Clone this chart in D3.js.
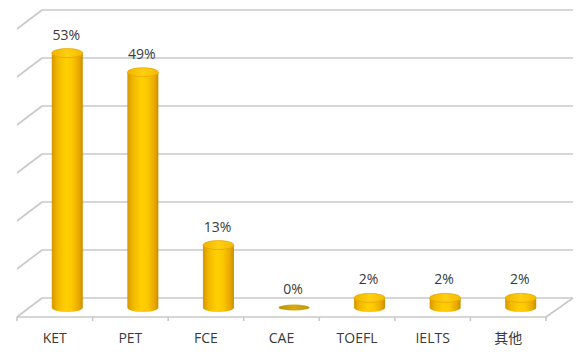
<!DOCTYPE html>
<html>
<head>
<meta charset="utf-8">
<script src="https://cdn.jsdelivr.net/npm/d3@7/dist/d3.min.js"></script>
<style>
  html, body { margin: 0; padding: 0; background: #fff; }
  svg { display: block; }
</style>
</head>
<body>
<svg id="chart" width="584" height="355"></svg>
<script>
const categories = ["KET", "PET", "FCE", "CAE", "TOEFL", "IELTS", "其他"];
const values = [53, 49, 13, 0, 2, 2, 2];
const labels = ["53%", "49%", "13%", "0%", "2%", "2%", "2%"];
const gridTicks = [0, 10, 20, 30, 40, 50, 60];

const W = 584, H = 355;
const svg = d3.select("#chart");

// front floor edge and depth offset (back = front + (dx, -dy))
const frontLeft = 17, frontRight = 546, frontY = 317;
const dx = 25, dy = 19;
const backLeft = frontLeft + dx, backRight = frontRight + dx + 2;

const x = d3.scaleBand().domain(categories).range([frontLeft, frontRight]);
const y = d3.scaleLinear().domain([0, 60]).range([frontY - dy, 10]);

const defs = svg.append("defs");
const body = defs.append("linearGradient").attr("id", "body").attr("x1", 0).attr("x2", 1).attr("y1", 0).attr("y2", 0);
[["0%", "#d69600"], ["18%", "#f2b800"], ["45%", "#ffd000"], ["65%", "#fcc800"], ["88%", "#e8a800"], ["100%", "#c98d00"]]
  .forEach(([o, c]) => body.append("stop").attr("offset", o).attr("stop-color", c));
const topG = defs.append("linearGradient").attr("id", "top").attr("x1", 0).attr("x2", 1).attr("y1", 0).attr("y2", 0);
[["0%", "#f0b400"], ["50%", "#ffcf10"], ["100%", "#f4bc00"]]
  .forEach(([o, c]) => topG.append("stop").attr("offset", o).attr("stop-color", c));
const flatG = defs.append("linearGradient").attr("id", "flat").attr("x1", 0).attr("x2", 1).attr("y1", 0).attr("y2", 0);
[["0%", "#b8960a"], ["50%", "#d4aa10"], ["100%", "#c29a08"]]
  .forEach(([o, c]) => flatG.append("stop").attr("offset", o).attr("stop-color", c));

const gridColor = "#c8c8c8";
const grid = svg.append("g").attr("stroke", gridColor).attr("stroke-width", 1.6).attr("fill", "none");

// back wall gridlines + left side diagonals
gridTicks.forEach(t => {
  const yy = y(t);
  grid.append("line").attr("x1", backLeft).attr("x2", backRight).attr("y1", yy).attr("y2", yy);
  grid.append("line").attr("x1", backLeft).attr("y1", yy).attr("x2", backLeft - dx).attr("y2", yy + dy);
});
// floor front edge and right diagonal
grid.append("line").attr("x1", frontLeft).attr("x2", frontRight).attr("y1", frontY).attr("y2", frontY);
grid.append("line").attr("x1", backRight).attr("y1", y(0)).attr("x2", frontRight).attr("y2", frontY);

// category ticks on the front edge
const tickPos = categories.map(c => x(c)).concat([frontRight]);
grid.selectAll(".tk").data(tickPos).enter().append("line")
  .attr("x1", d => d).attr("x2", d => d).attr("y1", frontY).attr("y2", frontY + 4);

// cylinders (mid-depth)
const rx = 15.5, ry = 4.5;
const bars = svg.append("g");
categories.forEach((c, i) => {
  const cx = x(c) + x.bandwidth() / 2 + dx / 2;
  const base = y(0) + dy / 2;
  const top = y(values[i]) + dy / 2;
  const g = bars.append("g");
  if (values[i] === 0) {
    g.append("ellipse").attr("cx", cx).attr("cy", base).attr("rx", rx).attr("ry", ry - 1.5)
      .attr("fill", "url(#flat)");
  } else {
    g.append("path")
      .attr("d", `M${cx - rx},${top} L${cx - rx},${base} A${rx},${ry} 0 0 0 ${cx + rx},${base} L${cx + rx},${top} Z`)
      .attr("fill", "url(#body)");
    g.append("ellipse").attr("cx", cx).attr("cy", top).attr("rx", rx).attr("ry", ry)
      .attr("fill", "url(#top)").attr("stroke", "#e8a600").attr("stroke-width", 0.8);
  }
  svg.append("text")
    .attr("x", cx - 1).attr("y", top - ry - 9)
    .attr("text-anchor", "middle")
    .attr("font-family", "Open Sans, Liberation Sans, sans-serif")
    .attr("font-size", 14).attr("fill", "#3a3a3a")
    .text(labels[i]);
});

// category labels
svg.append("g").selectAll("text").data(categories).enter().append("text")
  .attr("x", d => x(d) + x.bandwidth() / 2)
  .attr("y", 343)
  .attr("text-anchor", "middle")
  .attr("font-family", "Open Sans, Noto Sans CJK SC, sans-serif")
  .attr("font-size", 14).attr("fill", "#3a3a3a")
  .text(d => d);
</script>
</body>
</html>
